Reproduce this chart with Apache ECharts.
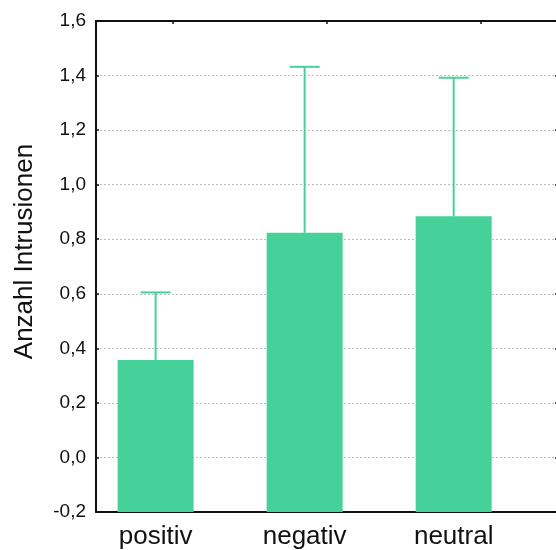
<!DOCTYPE html>
<html>
<head>
<meta charset="utf-8">
<script src="https://cdn.jsdelivr.net/npm/echarts@6/dist/echarts.min.js"></script>
<style>
  html, body { margin: 0; padding: 0; background: #fff; }
  #chart { width: 556px; height: 550px; }
</style>
</head>
<body>
<div id="chart"></div>
<script>
// Mean number of intrusions per condition, with upper error whisker
var categories = ['positiv', 'negativ', 'neutral'];
var positions = [1, 2, 3];
var means = [0.357, 0.824, 0.884];
var upper = [0.605, 1.432, 1.392];

var green = '#47D19A';
var font = 'Liberation Sans, Arial, Helvetica, sans-serif';

var chart = echarts.init(document.getElementById('chart'), null, { renderer: 'canvas' });

function fmt(v) { return v.toFixed(1).replace('.', ','); }

chart.setOption({
  animation: false,
  backgroundColor: '#fff',
  grid: { left: 96, right: -2, top: 21, bottom: 38, containLabel: false, outerBoundsMode: 'none' },
  xAxis: [
    {
      type: 'value',
      position: 'bottom',
      min: 0.6,
      max: 3.7,
      axisLine: { show: true, onZero: false, lineStyle: { color: '#111', width: 2 } },
      axisTick: { show: true, inside: true, length: 3, customValues: positions, lineStyle: { color: '#111', width: 1.5 } },
      axisLabel: {
        show: true,
        customValues: positions,
        margin: 12,
        color: '#111',
        fontFamily: font,
        fontSize: 26,
        formatter: function (v) { return categories[Math.round(v) - 1] || ''; }
      },
      splitLine: { show: false }
    },
    {
      type: 'category',
      position: 'top',
      data: categories,
      axisLine: { show: true, onZero: false, lineStyle: { color: '#111', width: 2 } },
      axisTick: { show: true, inside: true, length: 3, alignWithLabel: true, lineStyle: { color: '#111', width: 1.5 } },
      axisLabel: { show: false },
      splitLine: { show: false }
    }
  ],
  yAxis: [
    {
      type: 'value',
      position: 'left',
      min: -0.2,
      max: 1.6,
      interval: 0.2,
      startValue: -0.2,
      name: 'Anzahl Intrusionen',
      nameLocation: 'middle',
      nameGap: 58,
      nameTextStyle: { color: '#111', fontFamily: font, fontSize: 26, padding: [0, 0, 0, 30] },
      axisLine: { show: true, onZero: false, lineStyle: { color: '#111', width: 2 } },
      axisTick: { show: true, inside: true, length: 3, lineStyle: { color: '#111', width: 1.5 } },
      axisLabel: { color: '#111', fontFamily: font, fontSize: 19, margin: 10, formatter: fmt },
      splitLine: { show: true, lineStyle: { color: '#bdbdbd', width: 1, type: [2, 2] } }
    },
    {
      type: 'value',
      position: 'right',
      min: -0.2,
      max: 1.6,
      interval: 0.2,
      axisLine: { show: false, onZero: false },
      axisTick: { show: true, inside: true, length: 3, lineStyle: { color: '#111', width: 1.5 } },
      axisLabel: { show: false },
      splitLine: { show: false }
    }
  ],
  series: [
    {
      type: 'bar',
      xAxisIndex: 0,
      yAxisIndex: 0,
      barWidth: 76,
      itemStyle: { color: green },
      data: positions.map(function (p, i) { return [p, means[i]]; }),
      z: 2
    },
    {
      type: 'custom',
      xAxisIndex: 0,
      yAxisIndex: 0,
      data: positions.map(function (p, i) { return [p, means[i], upper[i]]; }),
      renderItem: function (params, api) {
        var x = api.value(0);
        var base = api.coord([x, api.value(1)]);
        var top = api.coord([x, api.value(2)]);
        var half = 15;
        var style = { stroke: green, lineWidth: 2 };
        return {
          type: 'group',
          children: [
            { type: 'line', shape: { x1: base[0], y1: base[1], x2: top[0], y2: top[1] }, style: style },
            { type: 'line', shape: { x1: top[0] - half, y1: top[1], x2: top[0] + half, y2: top[1] }, style: style }
          ]
        };
      },
      z: 3
    }
  ]
});
</script>
</body>
</html>
